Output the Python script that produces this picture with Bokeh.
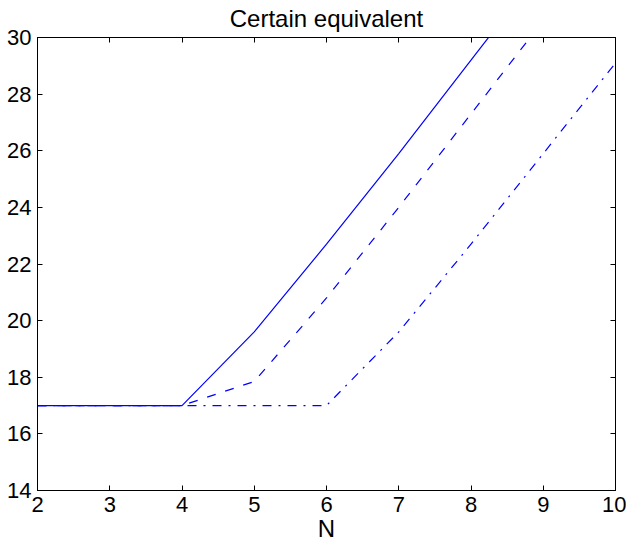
from bokeh.plotting import figure
from bokeh.models import LinearAxis, FixedTicker, Range1d
from bokeh.embed import file_html
from bokeh.resources import INLINE

# Data
N = [2, 3, 4, 5, 6, 7, 8, 9, 10]
ce_solid = [17, 17, 17, 19.6, 22.7, 25.9, 29.2, 32.5, 35.8]
ce_dashed = [17, 17, 17, 17.85, 20.8, 24.0, 27.3, 30.6, 33.9]
ce_dashdot = [17, 17, 17, 17, 17, 19.6, 22.7, 25.9, 29.1]
x_ticks = [2, 3, 4, 5, 6, 7, 8, 9, 10]
y_ticks = [14, 16, 18, 20, 22, 24, 26, 28, 30]

FONT = "Liberation Sans"
FS = "22px"

p = figure(width=626, height=544, x_range=Range1d(2, 10), y_range=Range1d(14, 30),
           output_backend="svg", toolbar_location=None,
           min_border_left=37, min_border_right=11, min_border_top=37, min_border_bottom=51)

p.title.text = "Certain equivalent"
p.title.align = "center"
p.title.text_font = FONT
p.title.text_font_size = "24px"
p.title.text_font_style = "normal"
p.title.text_color = "black"
p.title.standoff = 8
p.title.vertical_align = "top"

p.xgrid.visible = False
p.ygrid.visible = False
p.outline_line_color = "black"
p.background_fill_color = "white"
p.border_fill_color = "white"

for ax in (p.xaxis[0], p.yaxis[0]):
    ax.major_tick_in = 5
    ax.major_tick_out = 0
    ax.minor_tick_line_color = None
    ax.major_label_text_font = FONT
    ax.major_label_text_font_size = FS
    ax.major_label_text_color = "black"
    ax.axis_line_color = "black"
    ax.major_tick_line_color = "black"
p.xaxis[0].ticker = FixedTicker(ticks=x_ticks)
p.yaxis[0].ticker = FixedTicker(ticks=y_ticks)
p.xaxis[0].major_label_standoff = 6
p.yaxis[0].major_label_standoff = 6
p.xaxis[0].axis_label = "N"
p.xaxis[0].axis_label_text_font = FONT
p.xaxis[0].axis_label_text_font_size = "24px"
p.xaxis[0].axis_label_text_font_style = "normal"
p.xaxis[0].axis_label_text_color = "black"
p.xaxis[0].axis_label_standoff = 0

top_ax = LinearAxis(ticker=FixedTicker(ticks=x_ticks), major_tick_in=5, major_tick_out=0,
                    minor_tick_line_color=None, major_label_standoff=0,
                    major_label_overrides={t: "" for t in x_ticks})
right_ax = LinearAxis(ticker=FixedTicker(ticks=y_ticks), major_tick_in=5, major_tick_out=0,
                      minor_tick_line_color=None, major_label_standoff=0,
                      major_label_overrides={t: "" for t in y_ticks})
p.add_layout(top_ax, "above")
p.add_layout(right_ax, "right")

blue = "#0000ff"
p.line(N, ce_solid, line_color=blue, line_width=1.2)
p.line(N, ce_dashed, line_color=blue, line_width=1.2, line_dash="9 10")
p.line(N, ce_dashdot, line_color=blue, line_width=1.2, line_dash="9 7 2 7")

open("out.html", "w").write(file_html(p, INLINE))
